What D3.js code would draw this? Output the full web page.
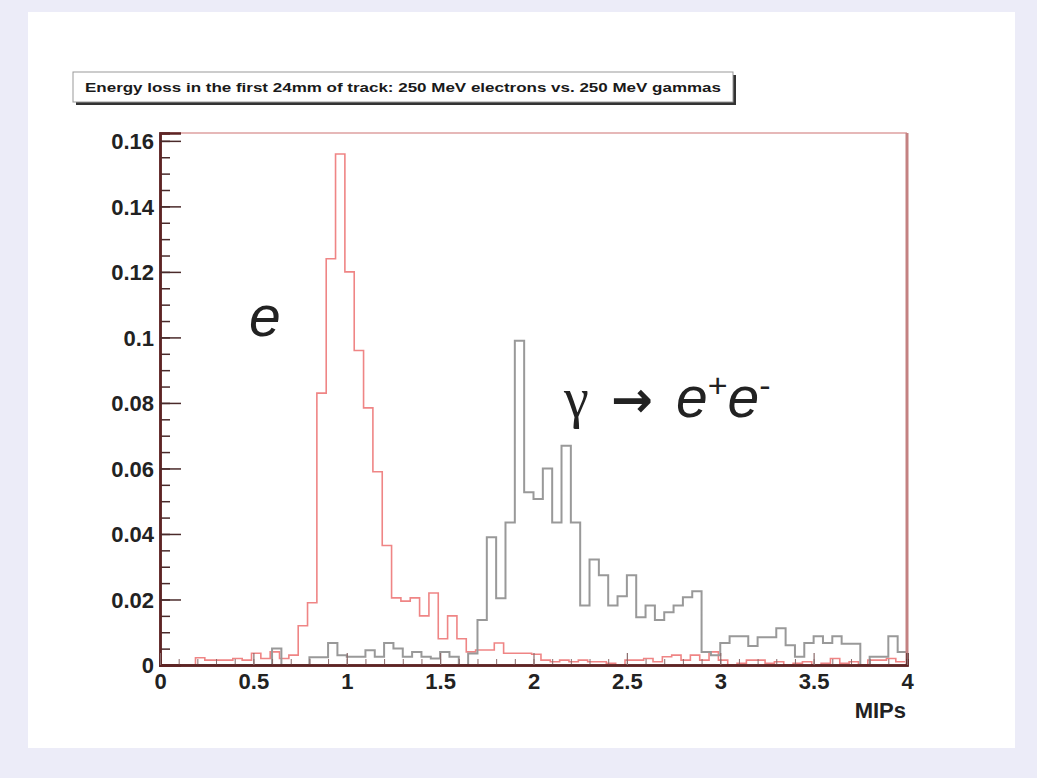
<!DOCTYPE html>
<html>
<head>
<meta charset="utf-8">
<script src="https://cdn.jsdelivr.net/npm/d3@7"></script>
<style>
html,body{margin:0;padding:0;background:#ececf8;}
svg{display:block;}
</style>
</head>
<body>
<svg id="chart" width="1037" height="778"></svg>
<script>
// ---------- data ----------
const title = "Energy loss in the first 24mm of track: 250 MeV electrons vs. 250 MeV gammas";
const xLabel = "MIPs";
const electronsBinStart = -0.01;
const gammasBinStart = 0;
const binWidth = 0.05;
const xTicks = [0, 0.5, 1, 1.5, 2, 2.5, 3, 3.5, 4];
const xTickLabels = ["0", "0.5", "1", "1.5", "2", "2.5", "3", "3.5", "4"];
const yTicks = [0, 0.02, 0.04, 0.06, 0.08, 0.1, 0.12, 0.14, 0.16];
const yTickLabels = ["0", "0.02", "0.04", "0.06", "0.08", "0.1", "0.12", "0.14", "0.16"];
// electrons (red)
const electrons = [
  0, 0, 0, 0, 0.0022, 0.0015, 0.0015, 0.0015, 0.002, 0.0015,
  0.0036, 0.002, 0.004, 0.002, 0.003, 0.012, 0.019, 0.083, 0.124, 0.156,
  0.120, 0.096, 0.0785, 0.059, 0.0365, 0.0205, 0.0195, 0.0205, 0.015, 0.022,
  0.008, 0.015, 0.008, 0.004, 0.0046, 0.0046, 0.0067, 0.0036, 0.0036, 0.0036,
  0.0033, 0.0015, 0.001, 0.0015, 0.001, 0.0015, 0.001, 0.001, 0.0005, 0,
  0.0015, 0.0015, 0.002, 0.001, 0.0025, 0.003, 0.0015, 0.003, 0.0015, 0.004,
  0.0015, 0, 0.0005, 0.0015, 0.0015, 0.0005, 0.001, 0, 0.0005, 0.001,
  0, 0.0005, 0.002, 0.0005, 0.001, 0, 0.0015, 0.0015, 0.002, 0.001
];
// gammas (gray)
const gammas = [
  0, 0, 0, 0, 0, 0, 0, 0, 0, 0,
  0, 0, 0.005, 0, 0, 0, 0.0024, 0.0024, 0.0067, 0.003,
  0.0025, 0.0025, 0.0045, 0.0025, 0.0067, 0.005, 0.0025, 0.004, 0.0025, 0.002,
  0.004, 0.0025, 0, 0.0035, 0.0137, 0.039, 0.0204, 0.0435, 0.099, 0.0527,
  0.0507, 0.060, 0.0435, 0.0669, 0.0435, 0.0182, 0.0322, 0.0274, 0.0182, 0.021,
  0.0274, 0.0146, 0.0182, 0.0137, 0.0161, 0.0182, 0.0207, 0.0225, 0.004, 0.003,
  0.0067, 0.0088, 0.0088, 0.0058, 0.0085, 0.0085, 0.0112, 0.006, 0.0025, 0.0067,
  0.0088, 0.0067, 0.0088, 0.0065, 0.0065, 0, 0.0025, 0.0025, 0.0088, 0.004
];

// ---------- layout ----------
const svg = d3.select("#chart");
svg.append("rect").attr("x", 28).attr("y", 12).attr("width", 987).attr("height", 736).attr("fill", "#ffffff");

const x = d3.scaleLinear().domain([0, 4]).range([160, 907]);
const y = d3.scaleLinear().domain([0, 0.1624]).range([665, 133]);

// title box
const tb = {x: 73, y: 72, w: 660, h: 30};
svg.append("rect").attr("x", tb.x + 3).attr("y", tb.y + 3).attr("width", tb.w).attr("height", tb.h).attr("fill", "#333");
svg.append("rect").attr("x", tb.x).attr("y", tb.y).attr("width", tb.w).attr("height", tb.h)
  .attr("fill", "#fff").attr("stroke", "#999").attr("stroke-width", 1);
svg.append("text").attr("x", tb.x + tb.w / 2).attr("y", tb.y + 20)
  .attr("text-anchor", "middle")
  .attr("font-family", "Liberation Sans, Arial, sans-serif").attr("font-weight", "bold")
  .attr("font-size", 12).attr("fill", "#1a1a1a")
  .attr("textLength", 636).attr("lengthAdjust", "spacingAndGlyphs")
  .text(title);

// clip for histograms
svg.append("clipPath").attr("id", "plotclip").append("rect")
  .attr("x", 160).attr("y", 120).attr("width", 747).attr("height", 560);

// histograms
function histPoints(vals, start) {
  const pts = vals.map((v, i) => [start + i * binWidth, v]);
  pts.push([start + vals.length * binWidth, vals[vals.length - 1]]);
  return pts;
}
const line = d3.line().x(d => x(d[0])).y(d => y(d[1])).curve(d3.curveStepAfter);
const hg = svg.append("g").attr("clip-path", "url(#plotclip)");
hg.append("path").datum(histPoints(electrons, electronsBinStart)).attr("d", line)
  .attr("fill", "none").attr("stroke", "#ef8585").attr("stroke-width", 1.6);
hg.append("path").datum(histPoints(gammas, gammasBinStart)).attr("d", line)
  .attr("fill", "none").attr("stroke", "#999999").attr("stroke-width", 2);

// frame
svg.append("line").attr("x1", 160).attr("x2", 907).attr("y1", 133).attr("y2", 133)
  .attr("stroke", "#e6b8b8").attr("stroke-width", 2);
svg.append("line").attr("x1", 907).attr("x2", 907).attr("y1", 133).attr("y2", 665)
  .attr("stroke", "#c48282").attr("stroke-width", 3);

// axes
const fontFam = "Liberation Sans, Arial, sans-serif";
const yMinor = d3.range(0, 0.1624, 0.005);
const gyMinor = svg.append("g").attr("transform", "translate(160,0)")
  .call(d3.axisLeft(y).tickValues(yMinor).tickSize(-10).tickFormat(""));
const gy = svg.append("g").attr("transform", "translate(160,0)")
  .call(d3.axisLeft(y).tickValues(yTicks).tickSize(-21).tickPadding(6)
    .tickFormat((d, i) => yTickLabels[i]));
const xMinor = d3.range(0, 4.0001, 0.1);
const gxMinor = svg.append("g").attr("transform", "translate(0,665)")
  .call(d3.axisBottom(x).tickValues(xMinor).tickSize(-6).tickFormat(""));
const gx = svg.append("g").attr("transform", "translate(0,665)")
  .call(d3.axisBottom(x).tickValues(xTicks).tickSize(-12).tickPadding(8)
    .tickFormat((d, i) => xTickLabels[i]));

[gy, gx, gyMinor, gxMinor].forEach(g => {
  g.selectAll(".domain").attr("stroke", "#5e2424").attr("stroke-width", 2.5);
  g.selectAll(".tick line").attr("stroke", "#4a2a2a").attr("stroke-width", 1.5);
  g.selectAll("text").attr("font-family", fontFam).attr("font-weight", "bold")
    .attr("font-size", 22).attr("fill", "#222");
});
gxMinor.selectAll(".tick line").attr("stroke", "#8a6a6a").attr("stroke-width", 1);
gx.selectAll(".tick line").attr("stroke", "#8a6a6a").attr("stroke-width", 1.2);
gy.selectAll(".tick text").attr("dy", "0.35em");

svg.append("text").attr("x", 906).attr("y", 718).attr("text-anchor", "end")
  .attr("font-family", fontFam).attr("font-weight", "bold").attr("font-size", 22)
  .attr("fill", "#222").text(xLabel);

// annotations
const annFont = "Liberation Sans, Arial, sans-serif";
svg.append("text").attr("x", 249).attr("y", 336).attr("font-family", annFont)
  .attr("font-style", "italic").attr("font-size", 57).attr("fill", "#222").text("e");

svg.append("text").attr("x", 564).attr("y", 417).attr("font-family", "Liberation Serif, DejaVu Serif, serif")
  .attr("font-size", 56).attr("fill", "#222").text("γ");
svg.append("text").attr("x", 611).attr("y", 417).attr("font-family", "DejaVu Sans, sans-serif")
  .attr("font-weight", "bold").attr("font-size", 50).attr("fill", "#222").text("→");
const g2 = svg.append("text").attr("x", 676).attr("y", 417).attr("font-family", annFont)
  .attr("font-size", 57).attr("fill", "#222");
g2.append("tspan").attr("font-style", "italic").text("e");
g2.append("tspan").attr("font-size", 34).attr("dy", -20).text("+");
g2.append("tspan").attr("font-style", "italic").attr("dy", 20).text("e");
g2.append("tspan").attr("font-size", 34).attr("dy", -20).text("-");
</script>
</body>
</html>
